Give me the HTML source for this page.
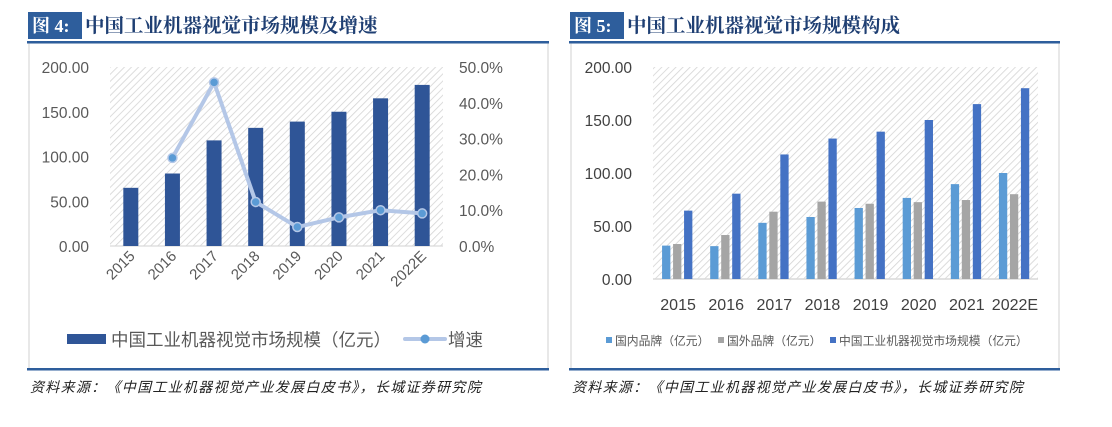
<!DOCTYPE html>
<html><head><meta charset="utf-8">
<style>
body{margin:0;background:#fff;width:1112px;height:427px;overflow:hidden;font-family:"Liberation Sans","Noto Sans CJK SC",sans-serif}
svg{position:absolute;left:0;top:0}
</style></head>
<body>
<svg width="1112" height="427">
<defs>
<pattern id="hatch" width="5" height="5" patternUnits="userSpaceOnUse" patternTransform="rotate(45)">
<rect width="5" height="5" fill="#fff"/><line x1="0" y1="0" x2="0" y2="5" stroke="#d4d4d4" stroke-width="1.6"/>
</pattern>
</defs>
<g id="left"></g>
<g id="right"></g>
</svg>
<script>
const years=["2015","2016","2017","2018","2019","2020","2021","2022E"];
const marketSize=[65,81,118,132,139,150,165,180];
const growth=[null,24.6,45.7,12.3,5.3,8.0,10.0,9.1];
const domestic=[31.5,31,53,58.5,67,76.5,89.5,100];
const foreign=[33,41.5,63.5,73,71,72.5,74.5,80];
const total=[64.5,80.5,117.5,132.5,139,150,165,180];
const leftTicks=["0.00","50.00","100.00","150.00","200.00"];
const rightTicks=["0.0%","10.0%","20.0%","30.0%","40.0%","50.0%"];
const NS="http://www.w3.org/2000/svg";
function mk(p,tag,a,txt){const e=document.createElementNS(NS,tag);for(const k in a)e.setAttribute(k,a[k]);if(txt!=null)e.textContent=txt;p.appendChild(e);return e;}
const CJK='"Liberation Sans","Noto Sans CJK SC",sans-serif';

function frame(g,x0,x1,boxR,titleNum,titleText){
  let e;
  e=mk(g,'rect',{x:x0+1,y:43,width:boxR-x0-2,height:326,fill:'#fff',stroke:'#d9d9d9','stroke-width':1.2});
  
  e=mk(g,'rect',{x:x0,y:12,width:54,height:27,fill:'#2e5e9c'});
  
  e=mk(g,'text',{x:x0+4,y:32,fill:'#fff','font-size':18,'font-weight':'bold','font-family':'"Liberation Serif","Noto Serif CJK SC",serif'},'图 '+titleNum+':');
  
  e=mk(g,'text',{x:x0+57,y:32,fill:'#1f3f73','font-size':19.5,'font-weight':'bold','font-family':'"Liberation Serif","Noto Serif CJK SC",serif'},titleText);
  
  e=mk(g,'rect',{x:x0-1,y:41,width:x1-x0+1,height:2.5,fill:'#2e5e9c'});
  
  e=mk(g,'rect',{x:x0-1,y:368,width:x1-x0+1,height:2.5,fill:'#2e5e9c'});
  
  e=mk(g,'text',{x:x0+2,y:392,fill:'#222','font-size':14,'font-style':'italic','letter-spacing':'1.3','font-family':CJK},'资料来源：《中国工业机器视觉产业发展白皮书》，长城证券研究院');
  
}

// LEFT
(function(){
  const g=document.getElementById('left');
  frame(g,28,549,549,'4','中国工业机器视觉市场规模及增速');
  const L=110,R=443,T=67,B=246,step=(R-L)/years.length;
  const y=v=>B-(v/200)*(B-T), y2=v=>B-(v/50)*(B-T), xc=i=>L+step*(i+0.5);
  let e=mk(g,'rect',{x:L,y:T,width:R-L,height:B-T,fill:'url(#hatch)'});
  
  mk(g,'line',{x1:L,y1:B,x2:R,y2:B,stroke:'#d9d9d9','stroke-width':1.2});
  leftTicks.forEach((t,i)=>{const v=i*50;
    e=mk(g,'text',{x:89,y:y(v)+6,'text-anchor':'end','font-size':15.5,fill:'#595959','font-family':CJK},t);
    });
  rightTicks.forEach((t,i)=>{const v=i*10;
    e=mk(g,'text',{x:459,y:y2(v)+6,'font-size':15.5,fill:'#595959','font-family':CJK},t);
    });
  marketSize.forEach((v,i)=>{
    e=mk(g,'rect',{x:xc(i)-7.5,y:y(v),width:15,height:B-y(v),fill:'#2f5597'});
    });
  const pts=[];growth.forEach((v,i)=>{if(v!=null)pts.push([xc(i),y2(v)]);});
  e=mk(g,'polyline',{points:pts.map(p=>p.join(',')).join(' '),fill:'none',stroke:'#b4c7e7','stroke-width':4,'stroke-linejoin':'round'});
  
  pts.forEach((p,i)=>{e=mk(g,'circle',{cx:p[0],cy:p[1],r:4.5,fill:'#5b9bd5',stroke:'#b4c7e7','stroke-width':1.5});
    });
  years.forEach((t,i)=>{const x=xc(i)+5,yy=257;
    e=mk(g,'text',{x:x,y:yy,'text-anchor':'end','font-size':15,fill:'#595959','font-family':CJK,transform:`rotate(-45 ${x} ${yy})`},t);
    });
  e=mk(g,'rect',{x:67,y:334,width:39,height:10,fill:'#2f5597'});
  
  e=mk(g,'text',{x:111,y:346,'font-size':17.5,fill:'#595959','font-family':CJK},'中国工业机器视觉市场规模（亿元）');
  
  mk(g,'line',{x1:405,y1:339,x2:445,y2:339,stroke:'#b4c7e7','stroke-width':4,'stroke-linecap':'round'});
  e=mk(g,'circle',{cx:425,cy:339,r:4.5,fill:'#5b9bd5'});
  
  e=mk(g,'text',{x:448,y:346,'font-size':17.5,fill:'#595959','font-family':CJK},'增速');
  
})();

// RIGHT
(function(){
  const g=document.getElementById('right');
  frame(g,570,1060,1060,'5','中国工业机器视觉市场规模构成');
  const L=653,R=1038,T=67,B=279,step=(R-L)/years.length;
  const y=v=>B-(v/200)*(B-T), xc=i=>L+step*(i+0.5);
  let e=mk(g,'rect',{x:L,y:T,width:R-L,height:B-T,fill:'url(#hatch)'});
  
  mk(g,'line',{x1:L,y1:B,x2:R,y2:B,stroke:'#d9d9d9','stroke-width':1.5});
  leftTicks.forEach((t,i)=>{const v=i*50;
    e=mk(g,'text',{x:632,y:y(v)+6,'text-anchor':'end','font-size':15.5,fill:'#404040','font-family':CJK},t);
    });
  const series=[[domestic,'#5b9bd5','domestic'],[foreign,'#a5a5a5','foreign'],[total,'#4472c4','total']];
  series.forEach((s,k)=>{s[0].forEach((v,i)=>{
    e=mk(g,'rect',{x:xc(i)-4+(k-1)*11,y:y(v),width:8.3,height:B-y(v),fill:s[1]});
    });});
  years.forEach((t,i)=>{
    e=mk(g,'text',{x:xc(i)+1,y:310,'text-anchor':'middle','font-size':16,fill:'#404040','font-family':CJK},t);
    });
  const leg=[[606,'#5b9bd5','国内品牌（亿元）','domestic'],[718,'#a5a5a5','国外品牌（亿元）','foreign'],[830,'#4472c4','中国工业机器视觉市场规模（亿元）','total']];
  leg.forEach(l=>{
    e=mk(g,'rect',{x:l[0],y:337,width:6,height:6,fill:l[1]});
    
    e=mk(g,'text',{x:l[0]+9,y:345,'font-size':11.8,fill:'#595959','font-family':CJK},l[2]);
    });
})();
</script>
</body></html>
